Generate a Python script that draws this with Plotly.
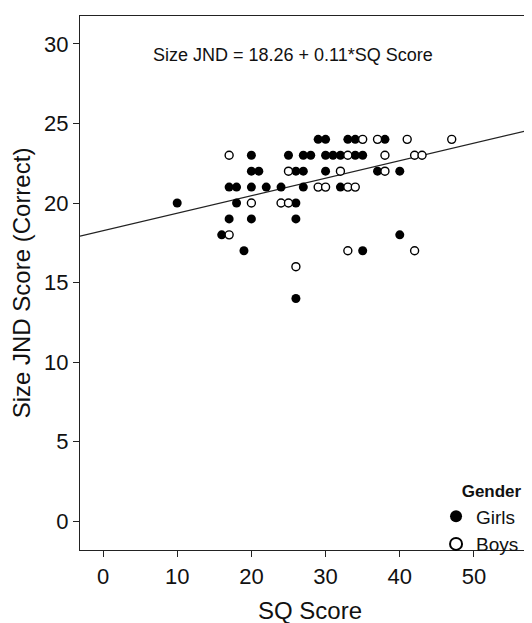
import plotly.graph_objects as go

# ---- data ----
girls_sq = [29, 30, 33, 34, 38,
            20, 25, 27, 28, 30, 31, 32, 34, 35,
            20, 21, 26, 27, 30, 37, 40,
            17, 18, 20, 22, 24, 27, 32,
            10, 18, 26,
            17, 20, 26,
            16, 40,
            19, 35,
            26]
girls_jnd = [24, 24, 24, 24, 24,
             23, 23, 23, 23, 23, 23, 23, 23, 23,
             22, 22, 22, 22, 22, 22, 22,
             21, 21, 21, 21, 21, 21, 21,
             20, 20, 20,
             19, 19, 19,
             18, 18,
             17, 17,
             14]
boys_sq = [35, 37, 41, 47,
           17, 33, 38, 42, 43,
           25, 32, 38,
           29, 30, 33, 34,
           20, 24, 25,
           17,
           33, 42,
           26]
boys_jnd = [24, 24, 24, 24,
            23, 23, 23, 23, 23,
            22, 22, 22,
            21, 21, 21, 21,
            20, 20, 20,
            18,
            17, 17,
            16]
fit_intercept = 18.26
fit_slope = 0.11
x_ticks = [0, 10, 20, 30, 40, 50]
y_ticks = [0, 5, 10, 15, 20, 25, 30]
x_range = [-3.1, 58.9]
y_range = [-1.8, 31.75]

FONT = "Liberation Sans, Arial, sans-serif"

fig = go.Figure()
fig.add_trace(go.Scatter(
    x=x_range,
    y=[fit_intercept + fit_slope * v for v in x_range],
    mode="lines", line=dict(color="#222222", width=1.3),
    showlegend=False, hoverinfo="skip"))
fig.add_trace(go.Scatter(
    x=girls_sq, y=girls_jnd, mode="markers", name="Girls",
    marker=dict(symbol="circle", size=9, color="black",
                line=dict(color="black", width=0))))
fig.add_trace(go.Scatter(
    x=boys_sq, y=boys_jnd, mode="markers", name="Boys",
    marker=dict(symbol="circle", size=8, color="white",
                line=dict(color="black", width=1.4))))

fig.add_annotation(
    x=0.463, y=0.95, xref="paper", yref="paper",
    text="Size JND = 18.26 + 0.11*SQ Score", showarrow=False,
    font=dict(family=FONT, size=18, color="#111111"))

fig.update_layout(
    width=532, height=623,
    margin=dict(l=72, r=0, t=8, b=81),
    paper_bgcolor="white", plot_bgcolor="white",
    font=dict(family=FONT, color="#111111"),
    xaxis=dict(range=x_range, tickvals=x_ticks, showgrid=False,
               zeroline=False, showline=True, linecolor="#222222",
               linewidth=1.3, mirror=True, ticks="outside", ticklen=6,
               tickcolor="#222222", tickfont=dict(size=22),
               title=dict(text="SQ Score", font=dict(size=24), standoff=14)),
    yaxis=dict(range=y_range, tickvals=y_ticks, showgrid=False,
               zeroline=False, showline=True, linecolor="#222222",
               linewidth=1.3, ticks="outside", ticklen=6,
               tickcolor="#222222", tickfont=dict(size=22),
               title=dict(text="Size JND Score (Correct)",
                          font=dict(size=24), standoff=6)),
    legend=dict(x=0.774, y=0.14, xanchor="left", yanchor="top",
                bgcolor="rgba(0,0,0,0)", itemsizing="constant",
                itemwidth=30, tracegroupgap=0,
                title=dict(text="\u00a0" * 5 + "<b>Gender</b>",
                           font=dict(size=17)),
                font=dict(size=19)),
)

fig.write_html("out.html")
